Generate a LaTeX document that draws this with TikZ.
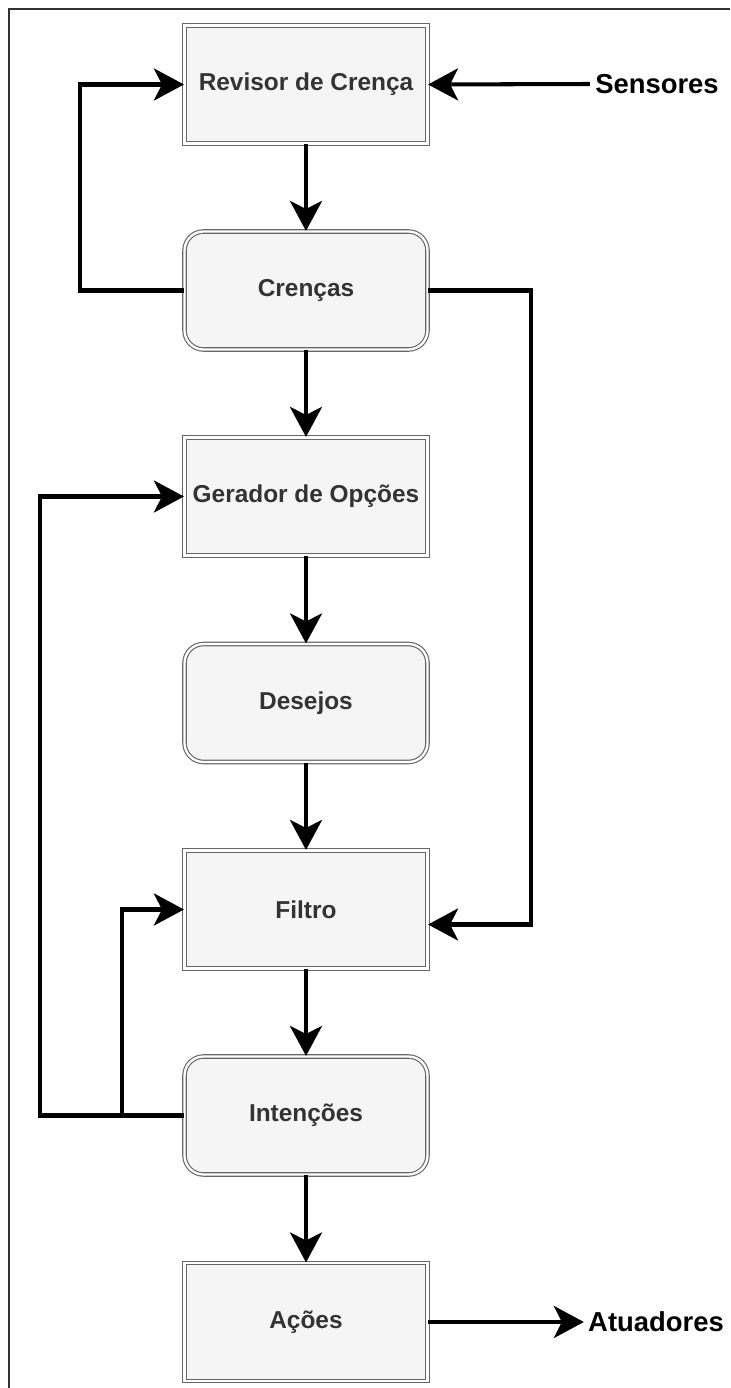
\documentclass[tikz,border=0pt]{standalone}
\usepackage{fontspec}
\setmainfont{Liberation Sans}
\usetikzlibrary{arrows.meta,calc}

\definecolor{boxfill}{HTML}{F5F5F5}
\definecolor{boxline}{HTML}{666666}
\definecolor{boxtext}{HTML}{333333}

\tikzset{
  stagebox/.style={draw=boxline, fill=boxfill, line width=0.65pt,
    double=white, double distance=1.3pt,
    minimum width=4.86cm, minimum height=2.36cm, inner sep=0pt,
    text=boxtext, font=\fontsize{13.9}{17}\selectfont\bfseries},
  roundbox/.style={stagebox, rounded corners=0.38cm},
  ioLabel/.style={font=\fontsize{15.6}{18}\selectfont\bfseries, text=black, inner sep=0pt},
  arr/.style={draw=black, line width=2.3pt,
    -{Stealth[length=0.6cm, width=0.64cm, inset=0.16cm]}},
  frameline/.style={draw=boxtext, line width=0.9pt}
}

\begin{document}
\begin{tikzpicture}[x=0.02cm, y=-0.02cm]
  \useasboundingbox (0,0) rectangle (730,1388);

  % outer frame edges
  \draw[frameline] (9,1388) -- (9,9) -- (730,9);

  % stages of the reasoning cycle
  \node[stagebox] (rev)  at (306,84.5)  {Revisor de Crença};
  \node[roundbox] (cren) at (306,290.5) {Crenças};
  \node[stagebox] (gen)  at (306,496.5) {Gerador de Opções};
  \node[roundbox] (des)  at (306,703)   {Desejos};
  \node[stagebox] (filt) at (306,909.5) {Filtro};
  \node[roundbox] (int)  at (306,1115.5){Intenções};
  \node[stagebox] (acoes) at (306,1322) {Ações};

  % inputs and outputs
  \node[ioLabel] (sens) at (657,84)  {Sensores};
  \node[ioLabel] (atu)  at (656,1322) {Atuadores};

  % main flow
  \draw[arr] (rev.south)  -- (cren.north);
  \draw[arr] (cren.south) -- (gen.north);
  \draw[arr] (gen.south)  -- (des.north);
  \draw[arr] (des.south)  -- (filt.north);
  \draw[arr] (filt.south) -- (int.north);
  \draw[arr] (int.south)  -- (acoes.north);

  % sensors and actuators
  \draw[arr] ($(sens.west)+(-5,0)$) -- (rev.east);
  \draw[arr] (acoes.east) -- ($(atu.west)+(-4,0)$);

  % feedback loops
  \draw[arr] (cren.west) -- ++(-104,0) |- (rev.west);
  \draw[arr] (cren.east) -- ++(103,0) |- ($(filt.east)+(0,15)$);
  \draw[arr] (int.west) -- ++(-144,0) |- (gen.west);
  \draw[arr] (int.west) -- ++(-62,0) |- (filt.west);
\end{tikzpicture}
\end{document}
